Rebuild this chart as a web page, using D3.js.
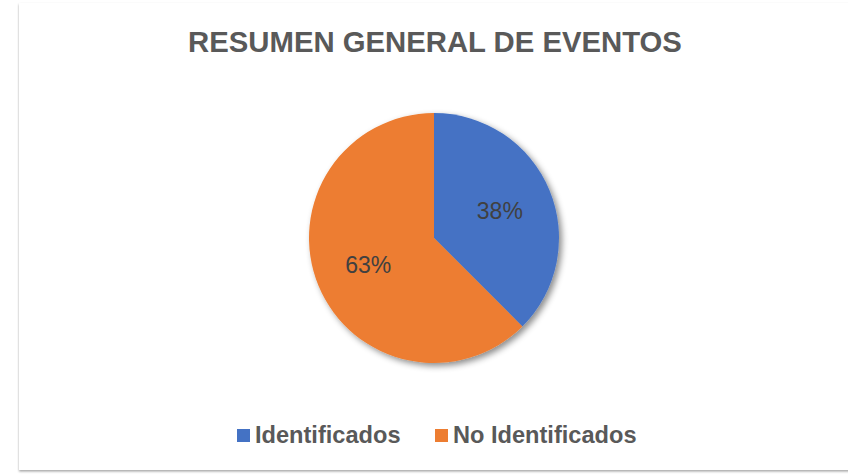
<!DOCTYPE html>
<html><head><meta charset="utf-8">
<script src="https://cdn.jsdelivr.net/npm/d3@7"></script>
<style>html,body{margin:0;padding:0;background:#fff;}svg{display:block;}</style>
</head><body>
<svg id="c" width="848" height="475"></svg>
<script>
const categories = ["Identificados", "No Identificados"];
const values = [3, 5];
const colors = ["#4472C4", "#ED7D31"];
const title = "RESUMEN GENERAL DE EVENTOS";

const svg = d3.select("#c");
const defs = svg.append("defs");
const f = defs.append("filter").attr("id","sh").attr("x","-20%").attr("y","-20%").attr("width","140%").attr("height","140%");
f.append("feDropShadow").attr("dx",3).attr("dy",3).attr("stdDeviation",3).attr("flood-color","#000").attr("flood-opacity",0.45);
const f2 = defs.append("filter").attr("id","sh2").attr("x","-5%").attr("y","-5%").attr("width","110%").attr("height","110%");
f2.append("feDropShadow").attr("dx",0).attr("dy",1.5).attr("stdDeviation",1).attr("flood-color","#000").attr("flood-opacity",0.35);

svg.append("rect").attr("x",19).attr("y",3).attr("width",840).attr("height",467)
  .attr("fill","#fff").attr("filter","url(#sh2)");

svg.append("text").attr("x",435).attr("y",52).attr("text-anchor","middle")
  .attr("font-family","Liberation Sans, Arial, sans-serif").attr("font-weight","bold")
  .attr("font-size",29.3).attr("fill","#595959").text(title);

const cx = 434, cy = 238, r = 125;
const pie = d3.pie().sort(null).value(d=>d);
const arcs = pie(values);
const arc = d3.arc().innerRadius(0).outerRadius(r);
const g = svg.append("g").attr("transform",`translate(${cx},${cy})`);
g.append("g").attr("filter","url(#sh)").selectAll("path").data(arcs).join("path")
  .attr("d",arc).attr("fill",(d,i)=>colors[i]);
const total = d3.sum(values);
const lab = d3.arc().innerRadius(r*0.57).outerRadius(r*0.57);
g.selectAll("text.l").data(arcs).join("text").attr("class","l")
  .attr("x",d=>lab.centroid(d)[0]).attr("y",d=>lab.centroid(d)[1])
  .attr("text-anchor","middle").attr("dominant-baseline","central")
  .attr("font-family","Liberation Sans, Arial, sans-serif").attr("font-size",23)
  .attr("fill","#404040").text(d=>Math.round(d.data/total*100)+"%");

const legX = [237, 435];
const lg = svg.append("g");
categories.forEach((c,i)=>{
  lg.append("rect").attr("x",legX[i]).attr("y",429).attr("width",13).attr("height",13).attr("fill",colors[i]);
  lg.append("text").attr("x",legX[i]+18).attr("y",443)
    .attr("font-family","Liberation Sans, Arial, sans-serif").attr("font-weight","bold")
    .attr("font-size",23.6).attr("fill","#595959").text(c);
});
</script>
</body></html>
